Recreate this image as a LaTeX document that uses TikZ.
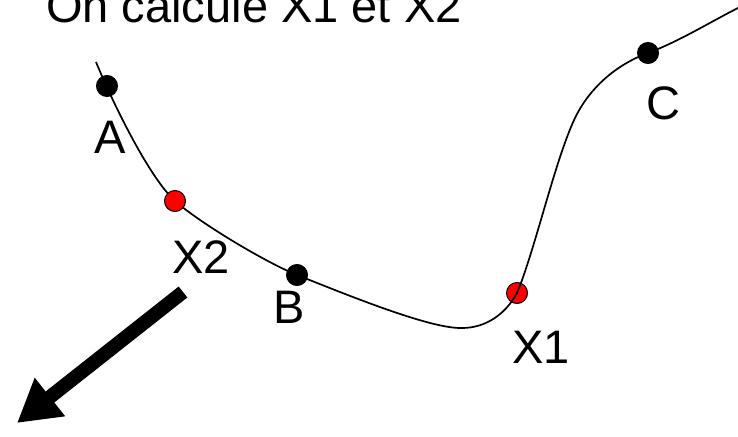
\documentclass[tikz,border=0pt]{standalone}
\usepackage{fontspec}
\setmainfont{Liberation Sans}
\usetikzlibrary{arrows.meta}
\begin{document}
\begin{tikzpicture}[x=1pt,y=-1pt,
  pt/.style={circle,draw=black,line width=1pt,minimum size=21pt,inner sep=0pt},
  blackpt/.style={pt,fill=black},
  redpt/.style={pt,fill=red},
  lbl/.style={inner sep=0pt,font=\fontsize{47}{56}\selectfont},
  curve/.style={line width=1.7pt,black}]
\useasboundingbox (0,0) rectangle (738,436);
\clip (0,0) rectangle (738,436);
\node[lbl,anchor=base west] (title) at (46,23) {On calcule X1 et X2};
\coordinate (pA) at (107,86);
\coordinate (pX2) at (175,201);
\coordinate (pB) at (297,275);
\coordinate (pX1) at (517,293);
\coordinate (pC) at (648,53);
\coordinate (S) at (96,62);
\coordinate (M) at (462,328);
\coordinate (K) at (575,118);
\coordinate (E) at (740,7);
\node[redpt] (X1) at (pX1) {};
\draw[curve] (S) .. controls (115,108) and (150,178) .. (pX2)
  .. controls (200,223) and (265,262) .. (pB)
  .. controls (345,294) and (430,329) .. (M)
  .. controls (485,328) and (505,315) .. (pX1)
  .. controls (535,250) and (555,160) .. (K)
  .. controls (589,89) and (615,65) .. (pC)
  .. controls (680,41) and (710,22) .. (E);
\node[blackpt] (A) at (pA) {};
\node[redpt] (X2) at (pX2) {};
\node[blackpt] (B) at (pB) {};
\node[blackpt] (C) at (pC) {};
\node[lbl] (lA) at (110,137) {A};
\node[lbl] (lX2) at (201,257) {X2};
\node[lbl] (lB) at (289,307) {B};
\node[lbl] (lX1) at (541,347) {X1};
\node[lbl] (lC) at (663,103) {C};
\coordinate (as) at (183,292);
\coordinate (ae) at (17,423);
\draw[line width=14pt,-{Triangle[length=42pt,width=46pt]}] (as) -- (ae);
\end{tikzpicture}
\end{document}
